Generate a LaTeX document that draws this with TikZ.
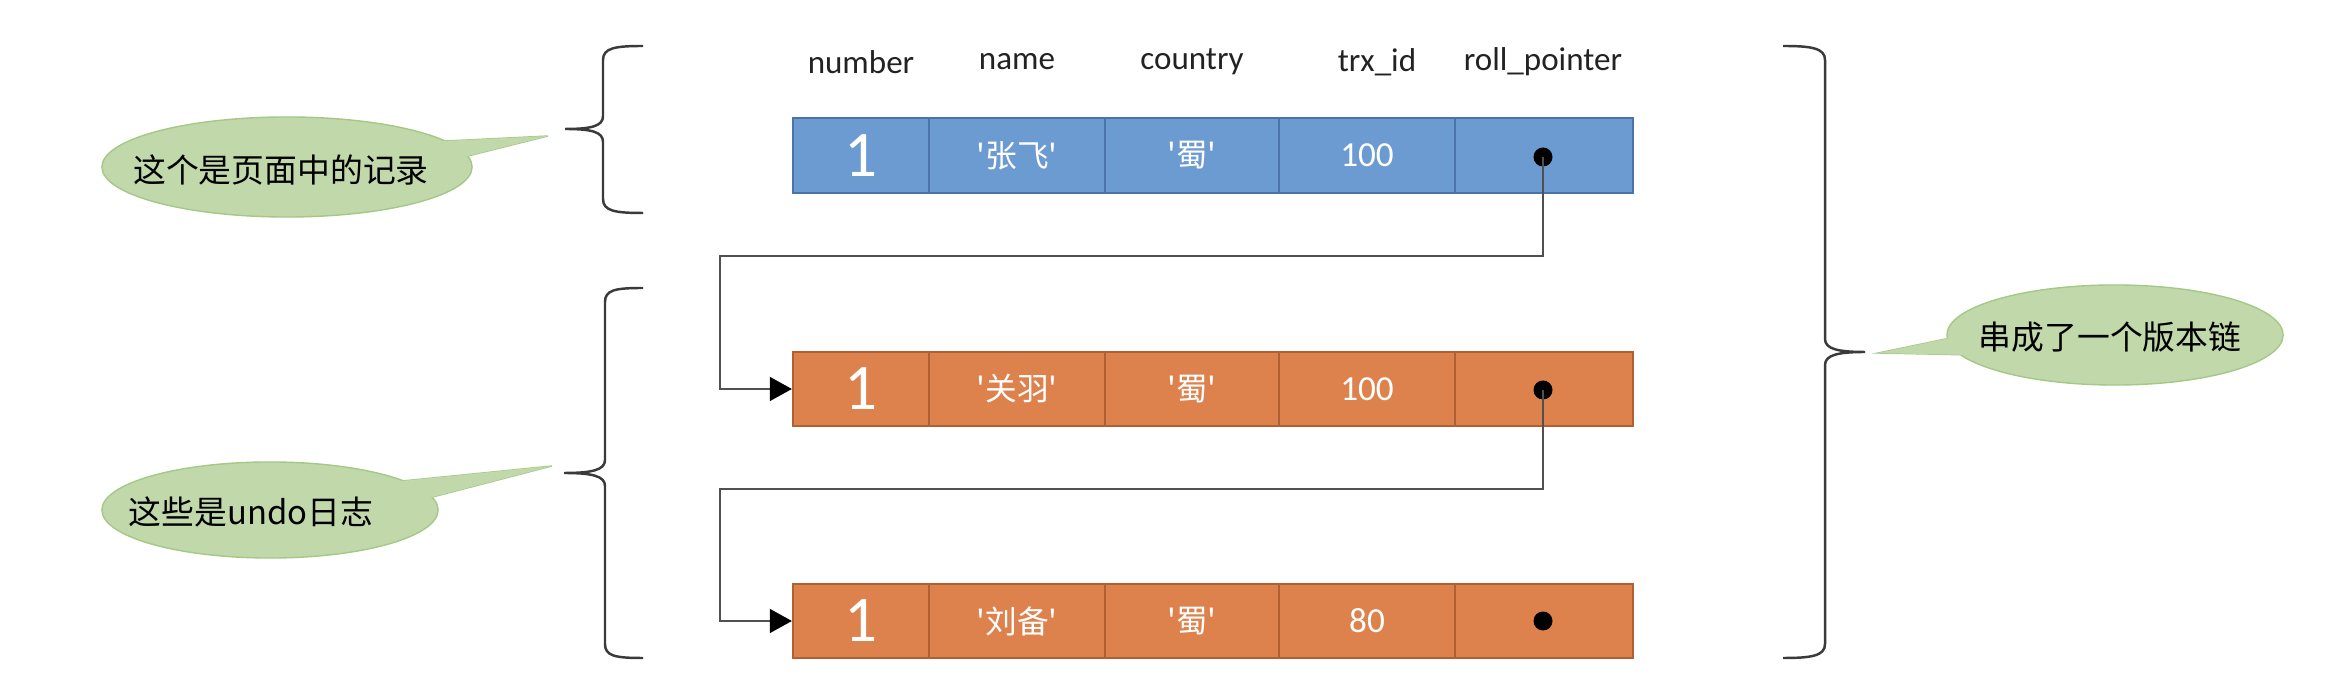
\documentclass[tikz,border=0pt]{standalone}
\usepackage{fontspec}
\setmainfont{Carlito}
\newfontfamily\cjk{Noto Sans CJK SC}
\usetikzlibrary{arrows.meta,shapes.geometric}
\definecolor{bfill}{HTML}{6C9BD2}
\definecolor{bline}{HTML}{4A74A8}
\definecolor{ofill}{HTML}{DE824D}
\definecolor{oline}{HTML}{B06032}
\definecolor{gfill}{HTML}{C1D8AB}
\definecolor{gline}{HTML}{A5C887}
\definecolor{linegray}{HTML}{505050}
\definecolor{bracegray}{HTML}{3A3A3A}
\definecolor{hdrtext}{HTML}{222222}
\newcommand{\sq}{\char"27\relax}
\begin{document}
\begin{tikzpicture}[x=0.01cm,y=-0.01cm,
  hdr/.style={text=hdrtext,font=\fontsize{9.4}{11}\selectfont,inner sep=0pt},
  cellbase/.style={rectangle,line width=0.6pt,inner sep=0pt,text=white,minimum height=0.745cm},
  bcell/.style={cellbase,draw=bline,fill=bfill},
  ocell/.style={cellbase,draw=oline,fill=ofill},
  wA/.style={minimum width=1.36cm},
  wB/.style={minimum width=1.76cm},
  wC/.style={minimum width=1.74cm},
  wD/.style={minimum width=1.76cm},
  wE/.style={minimum width=1.78cm},
  big/.style={font=\fontsize{18.5}{20}\selectfont},
  cn/.style={font=\cjk\fontsize{9}{11}\selectfont},
  num/.style={font=\fontsize{10}{12}\selectfont},
  dotnode/.style={circle,fill=black,inner sep=0pt,minimum size=5.4pt},
  conn/.style={draw=linegray,line width=0.6pt},
  arr/.style={-{Triangle[length=6.3pt,width=6.8pt,color=black]}},
  brace/.style={draw=bracegray,line width=0.7pt},
  bubble/.style={ellipse,fill=gfill,draw=gline,line width=0.4pt,inner sep=0pt},
  bubbletext/.style={font=\cjk\fontsize{9.33}{11}\selectfont,text=black,inner sep=0pt}
]
\useasboundingbox (0,0) rectangle (2346,686);

% headers
\node[hdr] (h1) at (861,62) {number};
\node[hdr] (h2) at (1017,62) {name};
\node[hdr] (h3) at (1192,62) {country};
\node[hdr] (h4) at (1377,62) {trx\_id};
\node[hdr] (h5) at (1543,62) {roll\_pointer};

% row 1 (page record)
\node[bcell,wA,big] (a1) at (861,155.5) {1};
\node[bcell,wB,cn]  (a2) at (1017,155.5) {\sq 张飞\sq};
\node[bcell,wC,cn]  (a3) at (1192,155.5) {\sq 蜀\sq};
\node[bcell,wD,num] (a4) at (1367,155.5) {100};
\node[bcell,wE]     (a5) at (1544,155.5) {};
\node[dotnode] (d1) at (1543,157) {};

% row 2
\node[ocell,wA,big] (b1) at (861,389) {1};
\node[ocell,wB,cn]  (b2) at (1017,389) {\sq 关羽\sq};
\node[ocell,wC,cn]  (b3) at (1192,389) {\sq 蜀\sq};
\node[ocell,wD,num] (b4) at (1367,389) {100};
\node[ocell,wE]     (b5) at (1544,389) {};
\node[dotnode] (d2) at (1543,390) {};

% row 3
\node[ocell,wA,big] (c1) at (861,621) {1};
\node[ocell,wB,cn]  (c2) at (1017,621) {\sq 刘备\sq};
\node[ocell,wC,cn]  (c3) at (1192,621) {\sq 蜀\sq};
\node[ocell,wD,num] (c4) at (1367,621) {80};
\node[ocell,wE]     (c5) at (1544,621) {};
\node[dotnode] (d3) at (1543,621) {};

% connectors
\coordinate (t1) at (720,256);
\coordinate (t2) at (720,489);
\draw[conn,arr] (d1.center) |- (t1) |- (b1.west);
\draw[conn,arr] (d2.center) |- (t2) |- (c1.west);

% left brace 1
\draw[brace] (643,46) .. controls (615,46) and (603,48) .. (603,60) -- (603,116)
  .. controls (603,126) and (592,129) .. (565,129)
  .. controls (592,129) and (603,132) .. (603,142) -- (603,199)
  .. controls (603,211) and (615,213) .. (643,213);
% left brace 2
\draw[brace] (643,288) .. controls (615,288) and (605,290) .. (605,302) -- (605,460)
  .. controls (605,470) and (592,473) .. (564,473)
  .. controls (592,473) and (605,476) .. (605,486) -- (605,644)
  .. controls (605,656) and (615,658) .. (643,658);
% right brace
\draw[brace] (1783,46) .. controls (1811,46) and (1825,48) .. (1825,60) -- (1825,339)
  .. controls (1825,349) and (1838,352) .. (1865,352)
  .. controls (1838,352) and (1825,355) .. (1825,365) -- (1825,644)
  .. controls (1825,656) and (1811,658) .. (1783,658);

% callout 1
\fill[gfill,draw=gline,line width=0.4pt] (425,142) -- (548,136) -- (460,158) -- cycle;
\node[bubble,minimum width=3.70cm,minimum height=1.0cm] (e1) at (287,167) {};
\fill[gfill] (425,142) -- (548,136) -- (460,158) -- cycle;
\node[bubbletext] (l1) at (281,170) {这个是页面中的记录};

% callout 2
\fill[gfill,draw=gline,line width=0.4pt] (392,482) -- (552,466) -- (425,499) -- cycle;
\node[bubble,minimum width=3.36cm,minimum height=0.96cm] (e2) at (270,510) {};
\fill[gfill] (392,482) -- (552,466) -- (425,499) -- cycle;
\node[bubbletext] (l2) at (251,512) {这些是undo日志};

% callout 3
\fill[gfill,draw=gline,line width=0.4pt] (1955,337) -- (1878,353) -- (1972,355) -- cycle;
\node[bubble,minimum width=3.36cm,minimum height=1.0cm] (e3) at (2115,335) {};
\fill[gfill] (1955,337) -- (1878,353) -- (1972,355) -- cycle;
\node[bubbletext] (l3) at (2110,337) {串成了一个版本链};
\end{tikzpicture}
\end{document}
